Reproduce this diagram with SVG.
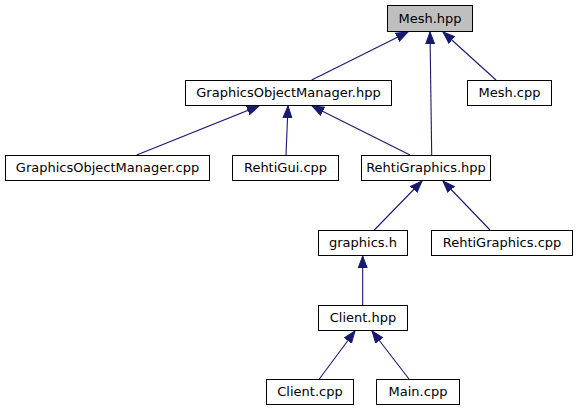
<svg xmlns="http://www.w3.org/2000/svg" width="577" height="411" viewBox="0 0 577 411">
<defs>
<style>
.node rect{fill:#ffffff;stroke:#000000;stroke-width:1}
.node.main rect{fill:#bfbfbf}
.node text{font-family:"DejaVu Sans","Liberation Sans",sans-serif;font-size:13px;text-anchor:middle;fill:#000000}
.edges line{stroke:#191970;stroke-width:1.1;marker-end:url(#arr)}
</style>
<marker id="arr" markerUnits="userSpaceOnUse" markerWidth="14" markerHeight="12" refX="12" refY="0" viewBox="0 -6 14 12" orient="auto">
<path d="M0,-4.5 L12,0 L0,4.5 z" fill="#191970" stroke="#191970" stroke-width="1"/>
</marker>
</defs>
<rect width="577" height="411" fill="#ffffff"/>
<g class="edges">
<line x1="311.7" y1="80" x2="408" y2="32"/>
<line x1="431.7" y1="155" x2="430" y2="32"/>
<line x1="496" y1="80" x2="443" y2="32"/>
<line x1="136.7" y1="155" x2="259" y2="106"/>
<line x1="286" y1="155" x2="288" y2="106"/>
<line x1="410" y1="155" x2="312" y2="106"/>
<line x1="374.3" y1="230" x2="422" y2="181"/>
<line x1="490" y1="230" x2="443" y2="181"/>
<line x1="362.7" y1="305" x2="362.7" y2="256"/>
<line x1="319.3" y1="379" x2="355" y2="331"/>
<line x1="409" y1="379" x2="372" y2="331"/>
</g>
<g id="mesh_hpp" class="node main"><rect x="387.5" y="5.5" width="85" height="26"/><text x="430" y="22.5">Mesh.hpp</text></g>
<g id="gom_hpp" class="node"><rect x="185.5" y="80.5" width="206" height="25"/><text x="288.5" y="97">GraphicsObjectManager.hpp</text></g>
<g id="mesh_cpp" class="node"><rect x="467.5" y="80.5" width="84" height="25"/><text x="509.5" y="97">Mesh.cpp</text></g>
<g id="gom_cpp" class="node"><rect x="5.5" y="155.5" width="204" height="25"/><text x="107.5" y="172">GraphicsObjectManager.cpp</text></g>
<g id="rehtigui_cpp" class="node"><rect x="232.5" y="155.5" width="106" height="25"/><text x="285.5" y="172">RehtiGui.cpp</text></g>
<g id="rehtigraphics_hpp" class="node"><rect x="361.5" y="155.5" width="129" height="25"/><text x="426" y="172">RehtiGraphics.hpp</text></g>
<g id="graphics_h" class="node"><rect x="318.5" y="230.5" width="89" height="25"/><text x="363" y="247">graphics.h</text></g>
<g id="rehtigraphics_cpp" class="node"><rect x="431.5" y="230.5" width="141" height="25"/><text x="502" y="247">RehtiGraphics.cpp</text></g>
<g id="client_hpp" class="node"><rect x="318.5" y="305.5" width="89" height="25"/><text x="363" y="322">Client.hpp</text></g>
<g id="client_cpp" class="node"><rect x="266.5" y="379.5" width="87" height="25"/><text x="310" y="396">Client.cpp</text></g>
<g id="main_cpp" class="node"><rect x="376.5" y="379.5" width="83" height="25"/><text x="418" y="396">Main.cpp</text></g>
</svg>
